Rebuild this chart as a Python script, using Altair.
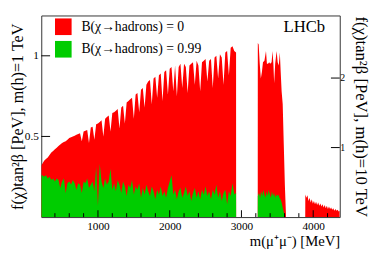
import altair as alt
import pandas as pd

RED_LABEL = "B(χ→hadrons) = 0"
GREEN_LABEL = "B(χ→hadrons) = 0.99"
SERIF = "Liberation Serif"

# ---- block 1 mass grid (MeV) ----
grid1 = [210,
         225, 250, 275, 300, 325, 350, 375, 400, 425, 450, 475, 500,
         525, 550, 575, 600, 625, 650, 675, 700, 725, 750, 775, 800,
         825, 850, 875, 900, 925, 950, 975, 1000, 1025, 1050, 1075, 1100,
         1125, 1150, 1175, 1200, 1225, 1250, 1275, 1300, 1325, 1350, 1375, 1400,
         1425, 1450, 1475, 1500, 1525, 1550, 1575, 1600, 1625, 1650, 1675, 1700,
         1725, 1750, 1775, 1800, 1825, 1850, 1875, 1900, 1925, 1950, 1975, 2000,
         2025, 2050, 2075, 2100, 2125, 2150, 2175, 2200, 2225, 2250, 2275, 2300,
         2325, 2350, 2375, 2400, 2425, 2450, 2475, 2500, 2525, 2550, 2575, 2600,
         2625, 2650, 2675, 2700, 2725, 2750, 2775, 2800, 2825, 2850, 2875, 2900,
         2925, 2926]

red1 = [0.32,
        0.33, 0.35, 0.36, 0.37, 0.385, 0.40, 0.41, 0.42, 0.43, 0.44, 0.45, 0.46,
        0.465, 0.47, 0.48, 0.49, 0.495, 0.50, 0.505, 0.51, 0.515, 0.52, 0.47, 0.53,
        0.535, 0.54, 0.46, 0.555, 0.56, 0.48, 0.575, 0.58, 0.59, 0.60, 0.50, 0.61,
        0.62, 0.63, 0.53, 0.645, 0.65, 0.66, 0.67, 0.55, 0.68, 0.69, 0.58, 0.71,
        0.72, 0.73, 0.74, 0.61, 0.76, 0.77, 0.65, 0.79, 0.80, 0.68, 0.82, 0.84,
        0.85, 0.70, 0.86, 0.87, 0.74, 0.88, 0.89, 0.72, 0.90, 0.91, 0.76, 0.92,
        0.93, 0.78, 0.94, 0.75, 0.93, 0.95, 0.80, 0.95, 0.93, 0.77, 0.94, 0.95,
        0.96, 0.82, 0.97, 0.94, 0.78, 0.96, 0.97, 0.98, 0.84, 0.97, 0.98, 0.80,
        0.99, 1.00, 0.86, 1.01, 0.99, 0.82, 1.02, 1.03, 0.88, 1.05, 1.06, 1.03,
        1.02, 0.0]

green1 = [0.26,
          0.26, 0.25, 0.26, 0.24, 0.25, 0.23, 0.24, 0.22, 0.24, 0.23, 0.18, 0.22,
          0.24, 0.15, 0.21, 0.22, 0.20, 0.23, 0.21, 0.17, 0.21, 0.20, 0.15, 0.22,
          0.21, 0.24, 0.18, 0.20, 0.22, 0.16, 0.31, 0.07, 0.33, 0.22, 0.18, 0.24,
          0.20, 0.22, 0.30, 0.17, 0.21, 0.16, 0.23, 0.20, 0.15, 0.22, 0.19, 0.13,
          0.20, 0.18, 0.23, 0.14, 0.19, 0.17, 0.21, 0.12, 0.18, 0.14, 0.20, 0.16,
          0.13, 0.19, 0.16, 0.11, 0.17, 0.14, 0.19, 0.13, 0.16, 0.12, 0.18, 0.22,
          0.26, 0.14, 0.17, 0.11, 0.16, 0.18, 0.12, 0.15, 0.19, 0.13, 0.16, 0.10,
          0.15, 0.18, 0.12, 0.16, 0.11, 0.17, 0.14, 0.19, 0.13, 0.16, 0.11, 0.17,
          0.14, 0.20, 0.12, 0.16, 0.10, 0.15, 0.17, 0.08, 0.16, 0.13, 0.21, 0.14,
          0.15, 0.0]

# ---- block 2 ----
red_mass2 = [3227, 3228, 3240, 3255, 3270, 3285, 3300, 3320, 3342, 3355, 3370, 3387,
             3400, 3420, 3433, 3445, 3456, 3470, 3490, 3505, 3520, 3535, 3547,
             3560, 3575, 3590, 3605, 3620, 3621]
red2 = [0.0, 1.08, 1.07, 0.95, 0.86, 0.90, 0.96, 0.97, 1.03, 0.95, 0.95, 0.96,
        0.95, 0.96, 1.03, 0.95, 0.83, 0.95, 1.03, 0.96, 0.94, 1.02, 0.90,
        0.78, 0.70, 0.45, 0.20, 0.02, 0.0]

green_mass2 = [3227, 3228, 3245, 3260, 3275, 3290, 3305, 3320, 3335, 3350, 3365,
               3380, 3395, 3410, 3425, 3440, 3455, 3470, 3485, 3500, 3515, 3530,
               3545, 3560, 3575, 3590, 3605, 4370]
green2 = [0.0, 0.13, 0.15, 0.12, 0.16, 0.13, 0.17, 0.14, 0.12, 0.16, 0.13,
          0.17, 0.14, 0.12, 0.16, 0.13, 0.15, 0.12, 0.14, 0.13, 0.14, 0.12,
          0.11, 0.09, 0.06, 0.03, 0.0, 0.0]

# ---- block 3 ----
red_mass3 = [3889, 3890, 3905, 3920, 3935, 3950, 3965, 3980, 3995, 4010, 4025,
             4040, 4055, 4070, 4085, 4100, 4115, 4130, 4145, 4160, 4175, 4190,
             4205, 4220, 4235, 4250, 4265, 4280, 4295, 4310, 4325, 4340, 4355, 4370]
red3 = [0.0, 0.14, 0.12, 0.135, 0.10, 0.12, 0.09, 0.11, 0.085, 0.10, 0.08,
        0.095, 0.075, 0.09, 0.07, 0.085, 0.065, 0.08, 0.06, 0.075, 0.055, 0.07,
        0.05, 0.065, 0.05, 0.06, 0.045, 0.055, 0.04, 0.05, 0.04, 0.045, 0.035, 0.04]

# ---- axis ticks ----
x_major = [1000, 2000, 3000, 4000]
x_minor = [400, 600, 800, 1200, 1400, 1600, 1800, 2200, 2400, 2600, 2800,
           3200, 3400, 3600, 3800, 4200]
y_left_ticks = [0.5, 1.0]
y_right_ticks = [1, 2]

W, H = 305, 206

red_df = pd.DataFrame({"mass": grid1 + red_mass2 + red_mass3,
                       "value": red1 + red2 + red3})
red_df["series"] = RED_LABEL
green_df = pd.DataFrame({"mass": grid1 + green_mass2, "value": green1 + green2})
green_df["series"] = GREEN_LABEL

xs = alt.Scale(domain=[210, 4370], nice=False, zero=False)
ys = alt.Scale(domain=[0, 1.25], nice=False, zero=False)
ys_r = alt.Scale(domain=[0, 2.9], nice=False, zero=False)

x_axis = alt.Axis(values=x_major, format="d", tickSize=0, domain=False, grid=False,
                  labelFont=SERIF, labelFontSize=11.5, labelPadding=4, labelColor="black",
                  title="m(μ⁺μ⁻) [MeV]", titleFont=SERIF, titleFontSize=15,
                  titleFontWeight="normal", titleColor="black",
                  titleAnchor="end", titleAlign="right", titleX=W, titleY=24,
                  titleBaseline="middle")
y_axis = alt.Axis(values=y_left_ticks, format="~g", tickSize=0, domain=False, grid=False,
                  labelFont=SERIF, labelFontSize=11.5, labelPadding=3, labelColor="black",
                  title="f(χ)tan²β [PeV], m(h)=1 TeV", titleFont=SERIF, titleFontSize=16.5,
                  titleFontWeight="normal", titleColor="black", titleAngle=270,
                  titleX=-24, titleY=H / 2, titleAlign="center", titleBaseline="middle")
y_axis_r = alt.Axis(orient="right", values=y_right_ticks, format="d", tickSize=0,
                    domain=False, grid=False, labelFont=SERIF, labelFontSize=10,
                    labelPadding=0, labelColor="black",
                    title="f(χ)tan²β [PeV], m(h)=10 TeV", titleFont=SERIF,
                    titleFontSize=17, titleFontWeight="normal", titleColor="black",
                    titleAngle=90, titleX=21, titleY=H / 2, titleAlign="center",
                    titleBaseline="middle")

color = alt.Color("series:N",
                  scale=alt.Scale(domain=[RED_LABEL, GREEN_LABEL],
                                  range=["#ff0000", "#00cc00"]),
                  legend=alt.Legend(orient="none", legendX=14, legendY=3, title=None,
                                    symbolType="square", symbolSize=289,
                                    symbolStrokeWidth=0, symbolOpacity=1,
                                    labelFont=SERIF, labelFontSize=14, labelOffset=10,
                                    labelLimit=400, labelColor="black",
                                    rowPadding=6, padding=0))

X = alt.X("mass:Q", scale=xs, axis=x_axis)
Y = alt.Y("value:Q", scale=ys, axis=y_axis, stack=None)

red = alt.Chart(red_df).mark_area(opacity=1, clip=True).encode(x=X, y=Y, color=color)
green = alt.Chart(green_df).mark_area(opacity=1, clip=True).encode(x=X, y=Y, color=color)

xmaj = alt.Chart(pd.DataFrame({"mass": x_major})).mark_rule(color="black", strokeWidth=1).encode(
    x=X, y=alt.value(H), y2=alt.value(H - 7))
xmin = alt.Chart(pd.DataFrame({"mass": x_minor})).mark_rule(color="black", strokeWidth=1).encode(
    x=X, y=alt.value(H), y2=alt.value(H - 4))
yl = alt.Chart(pd.DataFrame({"value": y_left_ticks})).mark_rule(color="black", strokeWidth=1).encode(
    y=Y, x=alt.value(0), x2=alt.value(9))

lhcb = alt.Chart(pd.DataFrame({"t": ["LHCb"]})).mark_text(
    align="right", baseline="alphabetic", font=SERIF, fontSize=17, color="black").encode(
    x=alt.value(290), y=alt.value(16.5), text="t:N")

inner = alt.layer(red, green, xmaj, xmin, yl, lhcb)

yr = alt.Chart(pd.DataFrame({"value": y_right_ticks})).mark_rule(color="black", strokeWidth=1).encode(
    y=alt.Y("value:Q", scale=ys_r, axis=y_axis_r), x=alt.value(W - 9), x2=alt.value(W))

chart = alt.layer(inner, yr).resolve_scale(y="independent").properties(
    width=W, height=H,
    autosize=alt.AutoSizeParams(type="none"),
    padding={"left": 34, "top": 5, "right": 35, "bottom": 32},
    background="white",
).configure_view(stroke="#333333", strokeWidth=1)

chart.save("out.html", embed_options={"renderer": "svg", "actions": False})
